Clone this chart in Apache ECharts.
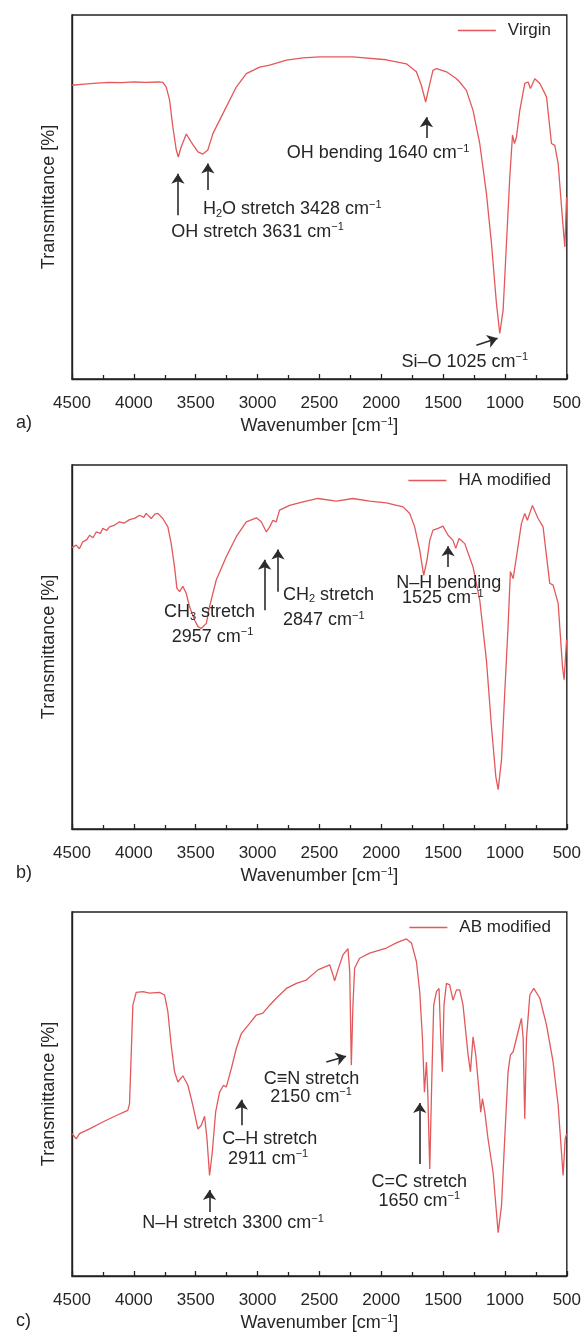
<!DOCTYPE html>
<html><head><meta charset="utf-8">
<script src="https://cdn.jsdelivr.net/npm/echarts/dist/echarts.min.js"></script>
<style>html,body{margin:0;padding:0;background:#fff}#c{width:584px;height:1333px}</style>
</head><body><div id="c"></div>
<script>
// ---------- data (wavenumber cm-1, transmittance in relative units 0-100) ----------
const seriesNames = ['Virgin', 'HA modified', 'AB modified'];
const xMin = 500, xMax = 4500, xStep = 500;

const virginWave = [4500,4400,4300,4200,4100,4000,3900,3800,3766,3738,3711,3685,3657,3641,3617,3576,3536,3482,3442,3402,3361,3280,3172,3091,2983,2902,2767,2633,2498,2229,1959,1797,1716,1676,1641,1614,1582,1554,1473,1392,1366,1312,1258,1204,1150,1109,1069,1042,1015,988,961,939,923,907,880,840,813,794,759,718,664,624,597,570,530,516,502];
const virginT    = [80.7,81.0,81.3,81.5,81.4,81.6,81.5,81.6,81.5,80.2,76.6,69.3,62.9,61.0,63.8,67.3,65.1,62.4,61.8,62.9,67.4,72.9,80.2,83.9,85.7,86.2,87.6,88.2,88.5,88.5,87.7,86.6,84.4,80.7,76.1,80.2,84.8,85.3,84.4,82.5,81.6,79.3,73.8,64.7,51.0,37.2,20.8,12.5,18.9,37.2,55.5,67.0,64.7,66.5,73.8,81.2,81.6,79.8,82.5,81.2,77.5,64.7,64.2,59.2,41.8,36.3,50.0];

const haWave = [4500,4466,4440,4413,4380,4358,4330,4304,4270,4251,4220,4197,4160,4116,4080,4035,3990,3954,3920,3900,3859,3830,3806,3766,3725,3698,3671,3652,3630,3604,3576,3550,3509,3482,3455,3414,3388,3334,3253,3172,3091,3010,2970,2929,2902,2876,2849,2822,2741,2633,2512,2363,2229,2094,1959,1824,1770,1730,1689,1657,1630,1608,1582,1541,1501,1460,1420,1398,1371,1325,1258,1204,1150,1109,1074,1055,1028,1002,975,956,934,907,867,840,819,778,732,692,638,611,570,535,522,502];
const haT    = [77.3,78.0,77.0,78.9,79.5,80.7,80.0,81.6,81.2,82.6,82.0,83.0,83.4,84.4,84.0,85.0,85.4,86.2,85.6,86.7,85.3,86.5,86.7,85.3,83.0,78.4,72.0,66.1,65.2,66.7,64.7,61.1,57.4,55.6,55.1,56.5,61.1,68.4,74.8,80.3,84.4,85.5,84.4,81.6,83.0,84.8,84.4,87.6,88.9,89.9,90.8,90.1,90.8,90.1,89.6,88.5,86.7,83.0,76.6,69.7,73.9,79.3,82.1,82.6,83.2,80.7,79.3,77.1,79.8,78.4,72.0,62.9,46.4,28.1,14.4,10.8,19.0,37.3,55.6,70.7,68.8,74.8,83.9,86.7,84.8,88.9,85.3,83.0,67.5,67.0,62.0,44.6,41.0,52.0];

const abWave = [4500,4466,4439,4358,4251,4142,4049,4035,4008,3981,3927,3873,3792,3752,3725,3698,3671,3644,3604,3563,3523,3482,3455,3428,3409,3388,3366,3339,3307,3275,3253,3212,3172,3131,3064,3010,2957,2902,2849,2767,2686,2606,2512,2498,2417,2390,2377,2350,2310,2269,2255,2242,2229,2215,2175,2094,1959,1878,1797,1756,1716,1689,1667,1651,1635,1624,1608,1590,1576,1554,1533,1519,1506,1493,1473,1447,1420,1392,1366,1339,1298,1279,1258,1236,1209,1196,1182,1163,1137,1096,1055,1028,1002,975,956,934,894,867,853,840,826,799,767,718,664,611,570,530,513,502];
const abT    = [39.1,37.7,39.1,40.4,42.3,44.1,45.5,47.3,74.4,77.9,78.1,77.7,77.9,77.2,72.6,63.4,56.1,53.3,55.0,52.4,46.9,40.4,41.4,43.9,37.7,27.6,34.0,45.0,50.5,52.4,51.9,57.0,62.5,66.6,69.4,71.7,72.2,74.4,76.3,79.0,80.4,81.3,84.1,83.6,85.5,82.7,81.1,84.1,88.2,89.9,83.6,57.9,74.4,84.6,87.3,88.7,90.1,91.5,92.6,91.5,86.4,78.1,65.3,50.5,58.8,50.5,29.4,56.1,74.4,78.1,79.0,65.3,56.1,74.4,80.4,80.0,75.8,78.6,78.6,74.4,60.7,56.1,65.7,60.7,50.5,45.0,48.7,45.0,37.7,28.5,11.9,19.3,37.7,56.1,60.7,61.6,67.1,70.8,65.3,43.2,65.3,77.2,79.0,76.3,68.9,58.8,46.9,27.6,37.7,39.0];

// ---------- annotations (anchored in data coordinates) ----------
const notesA = [
  {t:'{t|H}{b|2}{t|O stretch 3428 cm}{s|−1}', at:[3442,46.7], align:'left'},
  {t:'{t|OH stretch 3631 cm}{s|−1}', at:[3698,40.4], align:'left'},
  {t:'{t|OH bending 1640 cm}{s|−1}', at:[2765,62.0], align:'left'},
  {t:'{t|Si–O 1025 cm}{s|−1}', at:[1837,4.7], align:'left'}
];
const arrowsA = [[[3644,45.0],[3644,56.4]], [[3402,51.9],[3402,59.2]], [[1635,66.2],[1635,71.9]], [[1231,9.3],[1060,11.2]]];
const notesB = [
  {t:'{t|CH}{b|3}{t| stretch}', at:[3388,59.5], align:'center'},
  {t:'{t|2957 cm}{s|−1}', at:[3364,52.8], align:'center'},
  {t:'{t|CH}{b|2}{t| stretch}', at:[2795,64.3], align:'left'},
  {t:'{t|2847 cm}{s|−1}', at:[2795,57.4], align:'left'},
  {t:'{t|N–H bending}', at:[1455,67.6], align:'center'},
  {t:'{t|1525 cm}{s|−1}', at:[1503,63.4], align:'center'}
];
const arrowsB = [[[2943,60.1],[2943,74.0]], [[2835,65.2],[2835,76.8]], [[1460,72.0],[1460,77.7]]];
const notesC = [
  {t:'{t|N–H stretch 3300 cm}{s|−1}', at:[3932,14.5], align:'left'},
  {t:'{t|C–H stretch}', at:[2902,37.7], align:'center'},
  {t:'{t|2911 cm}{s|−1}', at:[2915,32.2], align:'center'},
  {t:'{t|C≡N stretch}', at:[2563,54.2], align:'center'},
  {t:'{t|2150 cm}{s|−1}', at:[2567,49.2], align:'center'},
  {t:'{t|C=C stretch}', at:[1693,25.7], align:'center'},
  {t:'{t|1650 cm}{s|−1}', at:[1692,20.7], align:'center'}
];
const arrowsC = [[[3388,17.6],[3388,23.6]], [[3131,41.4],[3131,48.4]], [[2444,58.8],[2285,60.4]], [[1689,30.8],[1689,47.5]]];

// ---------- chart ----------
const FONT = "'Liberation Sans', Arial, Helvetica, sans-serif";
const TXT = '#262626';
const RED = '#e3585a';
const rich = {
  t: {fontSize: 18, fontFamily: FONT, color: TXT, lineHeight: 20},
  s: {fontSize: 11, fontFamily: FONT, color: TXT, lineHeight: 12, verticalAlign: 'top'},
  b: {fontSize: 11, fontFamily: FONT, color: TXT, lineHeight: 12, verticalAlign: 'bottom'}
};
const grids = [
  {left: 72, right: 17, top: 15, height: 364},
  {left: 72, right: 17, top: 465, height: 364},
  {left: 72, right: 17, top: 912, height: 364}
];
const waves = [virginWave, haWave, abWave];
const vals = [virginT, haT, abT];
const notes = [notesA, notesB, notesC];
const arrows = [arrowsA, arrowsB, arrowsC];

const option = {
  animation: false,
  backgroundColor: '#fff',
  textStyle: {fontFamily: FONT},
  title: [
    {text: 'a)', left: 11, top: 409},
    {text: 'b)', left: 11, top: 859},
    {text: 'c)', left: 11, top: 1307}
  ].map(t => Object.assign(t, {textStyle: {fontSize: 18, fontWeight: 'normal', color: TXT, fontFamily: FONT}})),
  grid: grids.map(g => Object.assign({show: true, borderColor: '#222', borderWidth: 1.4, backgroundColor: 'transparent'}, g)),
  legend: grids.map((g, i) => ({
    data: [{name: seriesNames[i], icon: 'rect'}], right: 28, top: g.top + 2, selectedMode: false,
    itemWidth: 38, itemHeight: 1.6,
    itemStyle: {color: RED, borderWidth: 0},
    lineStyle: {width: 0},
    textStyle: {fontSize: 17, color: TXT, fontFamily: FONT, padding: [0, 0, 0, 7]}
  })),
  xAxis: grids.map((g, i) => ({
    type: 'value', gridIndex: i, inverse: true, min: xMin, max: xMax, interval: xStep,
    name: '{t|Wavenumber [cm}{s|−1}{t|]}', nameLocation: 'middle', nameGap: 37,
    nameTextStyle: {rich: rich},
    axisLine: {show: true, lineStyle: {color: '#222', width: 1.4}},
    axisTick: {show: true, inside: true, length: 5, lineStyle: {color: '#222', width: 1.3}},
    minorTick: {show: true, splitNumber: 2, length: 4, lineStyle: {color: '#222', width: 1.3}},
    axisLabel: {fontSize: 17, color: TXT, fontFamily: FONT, margin: 16, formatter: v => String(v)},
    splitLine: {show: false}
  })),
  yAxis: grids.map((g, i) => ({
    type: 'value', gridIndex: i, min: 0, max: 100,
    name: 'Transmittance [%]', nameLocation: 'middle', nameGap: 14,
    nameTextStyle: {fontSize: 18, color: TXT, fontFamily: FONT},
    axisLine: {show: true, lineStyle: {color: '#222', width: 1.4}},
    axisTick: {show: false}, axisLabel: {show: false}, splitLine: {show: false}
  })),
  series: seriesNames.map((name, i) => ({
    name: name, type: 'line', xAxisIndex: i, yAxisIndex: i,
    symbol: 'none', showSymbol: false, smooth: false,
    lineStyle: {color: RED, width: 1.3}, itemStyle: {color: RED},
    data: waves[i].map((w, k) => [w, vals[i][k]]),
    silent: true,
    markLine: {
      silent: true, symbol: ['none', 'arrow'], symbolSize: 10,
      lineStyle: {color: '#2b2b2b', width: 1.6, type: 'solid'},
      itemStyle: {color: '#2b2b2b'},
      label: {show: false}, emphasis: {disabled: true},
      data: arrows[i].map(a => [{coord: a[0]}, {coord: a[1]}])
    },
    markPoint: {
      silent: true, symbol: 'circle', symbolSize: 1, itemStyle: {color: 'rgba(0,0,0,0)'},
      emphasis: {disabled: true},
      data: notes[i].map(n => ({
        coord: n.at,
        label: {show: true, position: 'inside', align: n.align, verticalAlign: 'middle',
                formatter: n.t, rich: rich}
      }))
    }
  }))
};
const chart = echarts.init(document.getElementById('c'), null, {renderer: 'canvas'});
chart.setOption(option);
</script></body></html>
